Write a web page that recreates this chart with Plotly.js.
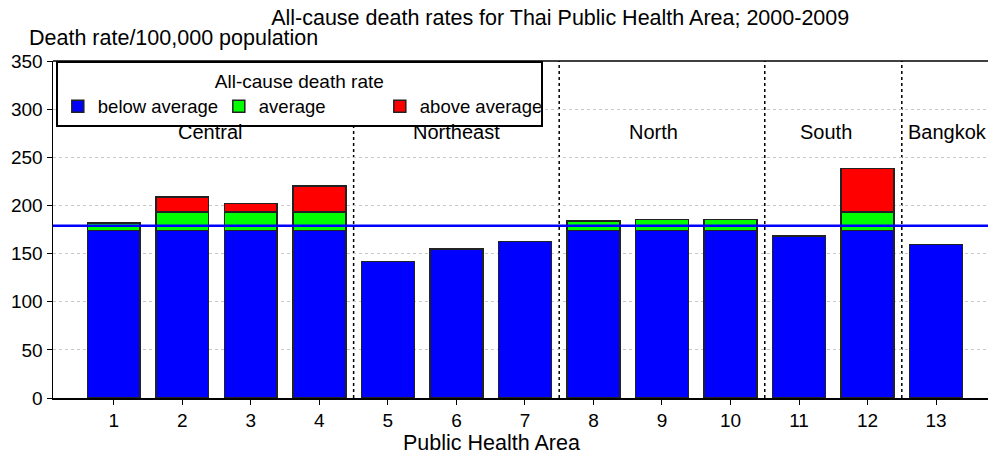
<!DOCTYPE html>
<html>
<head>
<meta charset="utf-8">
<script src="https://cdn.plot.ly/plotly-3.0.1.min.js"></script>
<style>html,body{margin:0;padding:0;background:#fff}#chart{width:988px;height:457px}</style>
</head>
<body>
<div id="chart"></div>
<script>
const areas = [1,2,3,4,5,6,7,8,9,10,11,12,13];
const belowAverage = [174,174,174,174,142,155,162.5,174,174,174,168,174,159.5];
const averageBand  = [7.5,19,19,19,0,0,0,10,11.5,11.5,0,19,0];
const aboveAverage = [0,15.5,9,27,0,0,0,0,0,0,0,45.5,0];
const overallAverage = 179;
const regions = ["Central","Northeast","North","South","Bangkok"];
const regionLabelX = [2.41,6,8.88,11.4,13.16];
const regionBounds = [4.5,7.5,10.5,12.5];
const yTicks = [0,50,100,150,200,250,300,350];

const fam = "Liberation Sans, Arial, sans-serif";
const font = {family:fam, size:20, color:"#000"};
const bigFont = {family:fam, size:21.5, color:"#000"};
const tickFont = {family:fam, size:19, color:"#000"};
const legendFont = {family:fam, size:18.5, color:"#000"};
const barLine = {color:"#222", width:1.5};

const traces = [
  {type:"bar", x:areas, y:belowAverage, name:"below average", marker:{color:"#0000ff", line:barLine}, width:0.77},
  {type:"bar", x:areas, y:averageBand, name:"average", marker:{color:"#00ff00", line:barLine}, width:0.77},
  {type:"bar", x:areas, y:aboveAverage, name:"above average", marker:{color:"#ff0000", line:barLine}, width:0.77}
];

const shapes = regionBounds.map(b => ({type:"line", xref:"x", yref:"paper", x0:b, x1:b, y0:0, y1:1,
  line:{color:"#000", width:1.5, dash:"dot"}, layer:"below"}));
shapes.push({type:"line", xref:"paper", yref:"y", x0:0, x1:1, y0:overallAverage, y1:overallAverage,
  line:{color:"#0000ff", width:2.5}, layer:"above"});
shapes.push({type:"line", xref:"paper", yref:"paper", x0:0, x1:1, y0:1, y1:1,
  line:{color:"#000", width:1.5}, layer:"above"});

const annotations = regions.map((r,i) => ({x:regionLabelX[i], y:276, xref:"x", yref:"y", text:r,
  showarrow:false, font:font}));
annotations.push({xref:"paper", yref:"paper", x:-0.028, y:1.068, xanchor:"left", yanchor:"middle",
  text:"Death rate/100,000 population", showarrow:false, font:bigFont});
annotations.push({xref:"paper", yref:"paper", x:0.4695, y:-0.134, xanchor:"center", yanchor:"middle",
  text:"Public Health Area", showarrow:false, font:bigFont});

const layout = {
  width:988, height:457,
  margin:{l:53, r:0, t:61, b:59},
  paper_bgcolor:"#fff", plot_bgcolor:"#fff",
  font:font,
  barmode:"stack",
  title:{text:"All-cause death rates for Thai Public Health Area; 2000-2009", x:0.567, xanchor:"center", y:0.961, yanchor:"middle", font:bigFont},
  xaxis:{range:[0.1127,13.758], tickvals:areas, ticktext:areas.map(String), ticks:"outside", ticklen:5, tickcolor:"#000",
    showline:true, linecolor:"#000", linewidth:1.5, showgrid:false, zeroline:false, tickfont:tickFont},
  yaxis:{range:[0,350], tickvals:yTicks, ticks:"outside", ticklen:5, tickcolor:"#000",
    showline:true, linecolor:"#000", linewidth:1.5, showgrid:true, gridcolor:"#c8c8c8", griddash:"dot", gridwidth:1,
    zeroline:false, tickfont:tickFont},
  legend:{orientation:"h", x:0.003, y:1, xanchor:"left", yanchor:"top", bgcolor:"#fff", bordercolor:"#000", borderwidth:2,
    title:{text:"All-cause death rate", side:"top center", font:{family:fam, size:19, color:"#000"}}, font:legendFont,
    entrywidth:116, entrywidthmode:"pixels", traceorder:"normal", tracegroupgap:0},
  shapes:shapes,
  annotations:annotations,
  showlegend:true
};
Plotly.newPlot("chart", traces, layout, {displayModeBar:false, staticPlot:true});
</script>
</body>
</html>
